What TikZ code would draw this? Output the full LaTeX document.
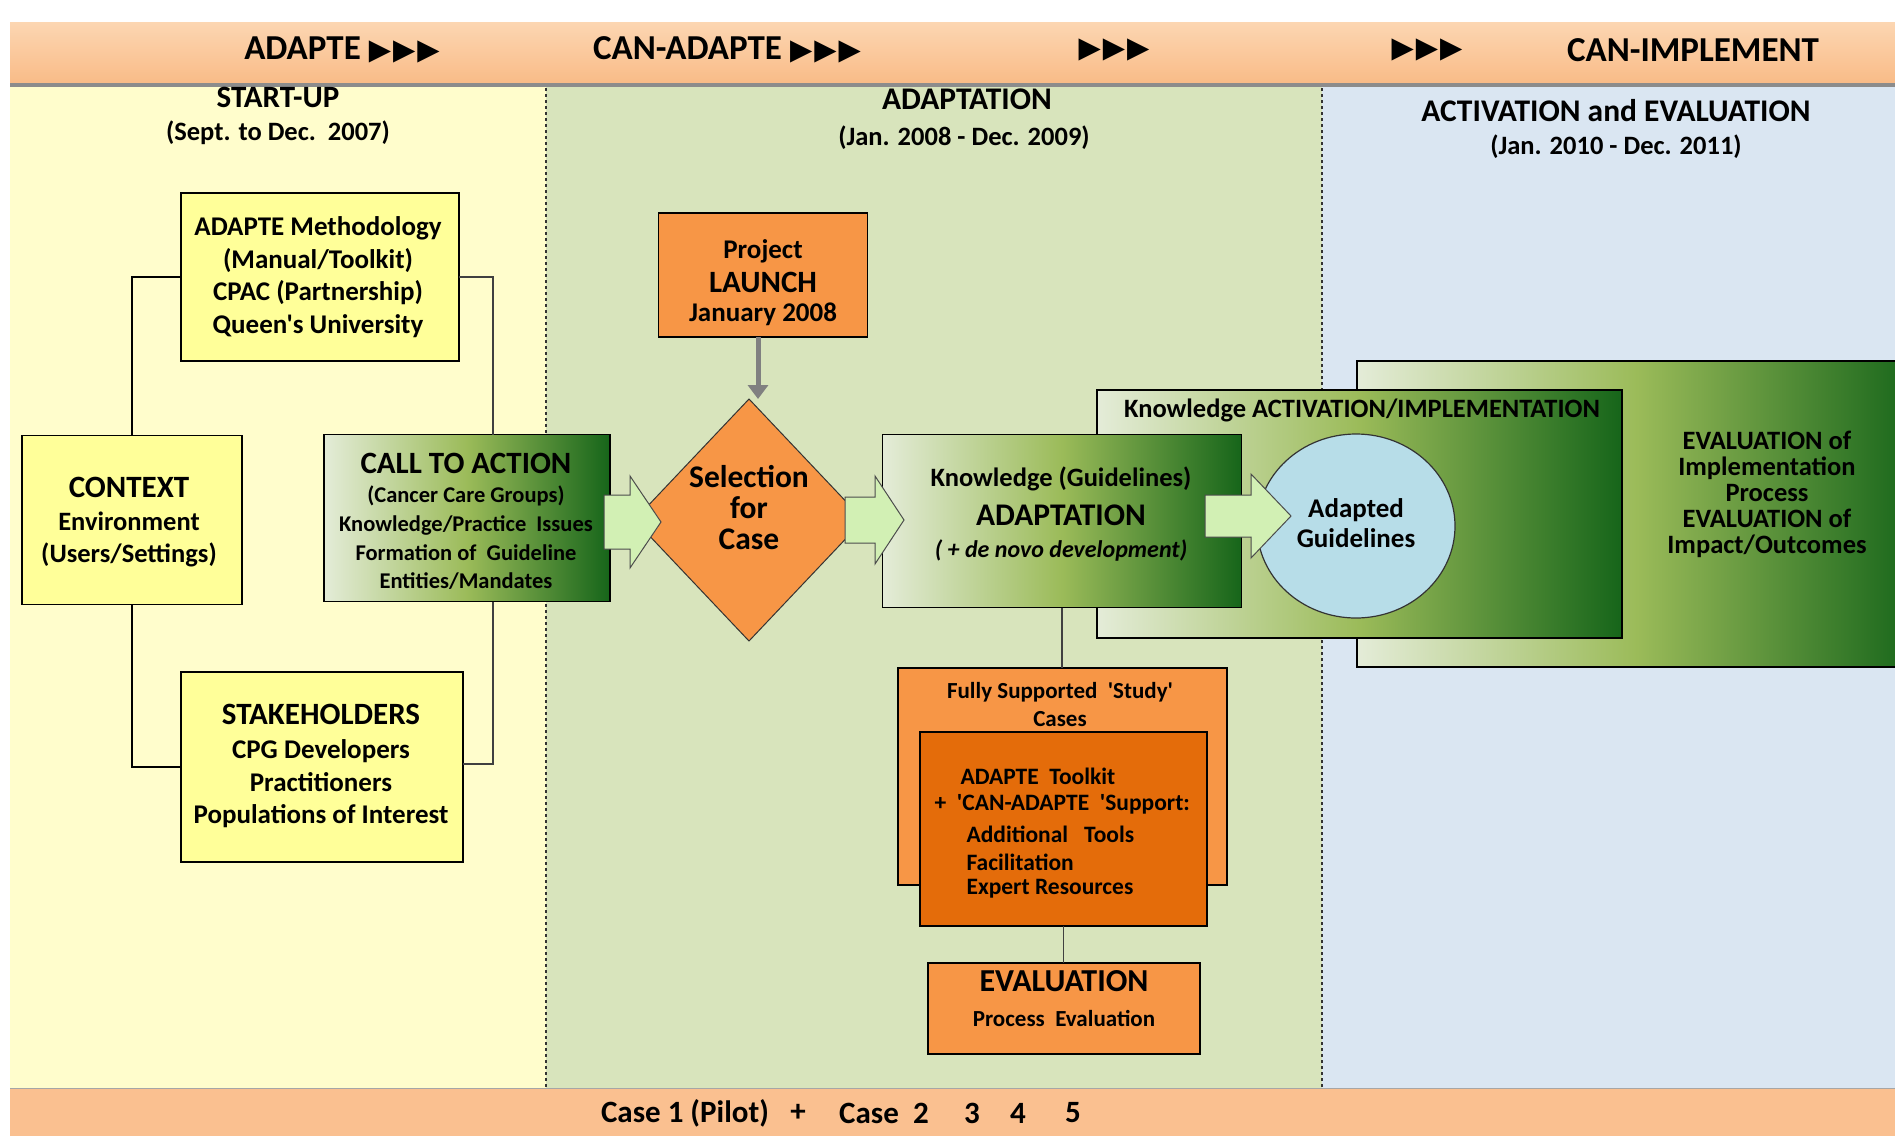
\documentclass[tikz,border=0pt]{standalone}
\usepackage{fontspec}
\setmainfont{Carlito}[Ligatures=TeXOff]
\newfontfamily\symfont{DejaVu Sans}
\usetikzlibrary{arrows.meta,shapes.geometric}
\newcommand\fsz[2]{\fontsize{#1}{#2}\selectfont}
\newcommand\tri{{\symfont\fsz{29}{29}▶\hspace{2pt}▶\hspace{2pt}▶}}

\definecolor{hdrtop}{HTML}{FCD6B2}
\definecolor{hdrbot}{HTML}{F9BC88}
\definecolor{pyellow}{HTML}{FFFDCC}
\definecolor{pgreen}{HTML}{D8E4BC}
\definecolor{pblue}{HTML}{DAE6F2}
\definecolor{boxyellow}{HTML}{FFFF99}
\definecolor{orangeA}{HTML}{F79646}
\definecolor{orangeB}{HTML}{E46C0A}
\definecolor{glight}{HTML}{E4ECD8}
\definecolor{gmid}{HTML}{9BBB59}
\definecolor{gdark}{HTML}{16651A}
\definecolor{arrowgreen}{HTML}{D2F0B4}
\definecolor{ellblue}{HTML}{B7DDE8}
\definecolor{bandorange}{HTML}{FAC090}

\begin{document}
\begin{tikzpicture}[x=1pt,y=-1pt,
  every node/.style={inner sep=0pt,outer sep=0pt},
  boxline/.style={draw=black,line width=1.8pt},
  ybox/.style={boxline,fill=boxyellow},
  obox/.style={boxline,fill=orangeA},
  gbox/.style={boxline,left color=glight,right color=gdark,middle color=gmid},
  conn/.style={draw=black,line width=1.6pt},
  blockarrow/.style={draw=black!70,line width=1pt,fill=arrowgreen},
  txt/.style={font=\bfseries,align=center,text=black},
]
\useasboundingbox (0,0) rectangle (1895,1136);

% phase panels
\fill[white] (0,0) rectangle (1895,1136);
\fill[pyellow] (10,82) rectangle (546,1088);
\fill[pgreen] (546,82) rectangle (1322,1088);
\fill[pblue] (1322,82) rectangle (1895,1088);
\draw[black!80,line width=1.2pt,dashed] (546,82) -- (546,1088);
\draw[black!80,line width=1.2pt,dashed] (1322,82) -- (1322,1088);

% top band with its shadow
\fill[black!45] (10,26) rectangle (1895,87);
\shade[top color=hdrtop,bottom color=hdrbot] (10,22) rectangle (1895,82);
\node[txt,font=\bfseries\fsz{35}{35}] (h1) at (342,50) {ADAPTE\hspace{8pt}\tri};
\node[txt,font=\bfseries\fsz{35}{35}] (h2) at (727,50) {CAN-ADAPTE\hspace{8pt}\tri};
\node[txt] (h3) at (1114,50) {\tri};
\node[txt] (h4) at (1427,50) {\tri};
\node[txt,font=\bfseries\fsz{35}{35}] (h5) at (1693,50) {CAN-IMPLEMENT};

% bottom band
\fill[bandorange] (10,1088) rectangle (1895,1136);
\draw[black!35,line width=1pt] (10,1088) -- (1895,1088);
\begin{scope}[every node/.style={txt,font=\bfseries\fsz{31}{31}}]
\node (b1) at (685,1113) {Case 1 (Pilot)};
\node (b2) at (798,1113) {+};
\node (b3) at (869,1113) {Case};
\node (b4) at (921,1113) {2};
\node (b5) at (972,1113) {3};
\node (b6) at (1018,1113) {4};
\node (b7) at (1073,1113) {5};
\end{scope}

% phase titles
\node[txt,font=\bfseries\fsz{31}{31}] (t1) at (278,97) {START-UP};
\node[txt,font=\bfseries\fsz{26.5}{26.5}] (d1) at (278,133) {(Sept. to Dec.\ \ 2007)};
\node[txt,font=\bfseries\fsz{31.5}{31.5}] (t2) at (967,99) {ADAPTATION};
\node[txt,font=\bfseries\fsz{26.5}{26.5}] (d2) at (964,138) {(Jan. 2008 - Dec. 2009)};
\node[txt,font=\bfseries\fsz{31.5}{31.5}] (t3) at (1616,111) {ACTIVATION and EVALUATION};
\node[txt,font=\bfseries\fsz{26.5}{26.5}] (d3) at (1616,147) {(Jan. 2010 - Dec. 2011)};

% start-up boxes
\node[ybox,minimum width=278,minimum height=168] (adapte) at (320,277) {};
\node[txt,font=\bfseries\fsz{27}{32.7}] (adaptetx) at (318,277)
  {ADAPTE Methodology\\(Manual/Toolkit)\\CPAC (Partnership)\\Queen's University};

\node[ybox,minimum width=220,minimum height=169] (context) at (132,520) {};
\node[txt,font=\bfseries\fsz{31}{31}] (contextt) at (129,487) {CONTEXT};
\node[txt,font=\bfseries\fsz{26.5}{32}] (contextb) at (129,539) {Environment\\(Users/Settings)};

\node[gbox,minimum width=286,minimum height=167] (call) at (467,518) {};
\node[txt,font=\bfseries\fsz{31}{31}] (callt) at (466,463) {CALL TO ACTION};
\node[txt,font=\bfseries\fsz{22.5}{28.7}] (callb) at (466,538)
  {(Cancer Care Groups)\\Knowledge/Practice\ \ Issues\\Formation of\ \ Guideline\\Entities/Mandates};

\node[ybox,minimum width=282,minimum height=190] (stake) at (322,767) {};
\node[txt,font=\bfseries\fsz{31}{31}] (staket) at (321,714) {STAKEHOLDERS};
\node[txt,font=\bfseries\fsz{27}{32.5}] (stakeb) at (321,784)
  {CPG Developers\\Practitioners\\Populations of Interest};

% brackets joining the start-up boxes
\coordinate (rtop) at (493,277);
\coordinate (rbot) at (493,764);
\draw[conn] (adapte.west) -| (context.north);
\draw[conn] (context.south) |- (stake.west);
\draw[conn,draw=black!75] (adapte.east) -- (rtop) -- (rtop |- call.north);
\draw[conn,draw=black!75] (rbot |- call.south) -- (rbot) -- (stake.east |- rbot);

% adaptation phase
\node[obox,minimum width=209,minimum height=124] (launch) at (763,275) {};
\node[txt,font=\bfseries\fsz{27}{27}] (launch1) at (763,251) {Project};
\node[txt,font=\bfseries\fsz{31}{31}] (launch2) at (763,282) {LAUNCH};
\node[txt,font=\bfseries\fsz{27}{27}] (launch3) at (763,314) {January 2008};

\node[minimum width=229,minimum height=242] (sel) at (749,520) {};
\draw[draw=black!80,line width=1pt,fill=orangeA]
  (sel.north) -- (sel.east) -- (sel.south) -- (sel.west) -- cycle;
\node[txt,font=\bfseries\fsz{31.5}{31}] (seltx) at (749,508) {Selection\\for\\Case};
\draw[draw=black!50,line width=5pt,-{Triangle[length=14pt,width=20pt]}] (launch.south -| 758,0) -- (sel.north -| 758,0);

% activation / evaluation layers
\node[gbox,minimum width=560,minimum height=306,anchor=north west] (evalout) at (1357,361) {};
\node[txt,font=\bfseries\fsz{26.5}{26}] (evaltx) at (1767,494)
  {EVALUATION of\\Implementation\\Process\\EVALUATION of\\Impact/Outcomes};
\node[gbox,minimum width=525,minimum height=248,anchor=north west] (kact) at (1097,390) {};
\node[txt,font=\bfseries\fsz{26.5}{26.5}] (kacttx) at (1362,410) {Knowledge ACTIVATION/IMPLEMENTATION};

\node[gbox,minimum width=359,minimum height=173] (adapt) at (1062,521) {};
\node[txt,font=\bfseries\fsz{26.5}{26.5}] (adapt1) at (1061,479) {Knowledge (Guidelines)};
\node[txt,font=\bfseries\fsz{31.5}{31.5}] (adapt2) at (1061,515) {ADAPTATION};
\node[txt,font=\bfseries\itshape\fsz{24}{24}] (adapt3) at (1061,550) {( + de novo development)};

\node[ellipse,draw=black!80,line width=1.2pt,fill=ellblue,minimum width=198,minimum height=184] (ell) at (1356,526) {};
\node[txt,font=\bfseries\fsz{27}{30}] (elltx) at (1356,523) {Adapted\\Guidelines};

% green block arrows
\path[blockarrow] (604,495) -- (630,495) -- (630,476) -- (661,522) -- (630,568) -- (630,549) -- (604,549) -- cycle;
\path[blockarrow] (845,497) -- (875,497) -- (875,476) -- (904,520) -- (875,564) -- (875,543) -- (845,543) -- cycle;
\path[blockarrow] (1205,495) -- (1251,495) -- (1251,474) -- (1291,516) -- (1251,558) -- (1251,537) -- (1205,537) -- cycle;

% supported cases and evaluation
\node[obox,minimum width=329,minimum height=217,anchor=north west] (fully) at (898,668) {};
\node[txt,font=\bfseries\fsz{23}{28}] (fullytx) at (1060,705) {Fully Supported\ \ 'Study'\\Cases};
\node[boxline,fill=orangeB,minimum width=287,minimum height=194,anchor=north west] (inner) at (920,732) {};
\begin{scope}[every node/.style={txt,font=\bfseries\fsz{23.5}{23.5},anchor=west}]
\node (in1) at (957,776) {ADAPTE\ \ Toolkit};
\node (in2) at (931,804) {+\ \ 'CAN-ADAPTE\ \ 'Support:};
\node (in3) at (963,834) {Additional\ \ \ Tools};
\node (in4) at (963,862) {Facilitation};
\node (in5) at (963,889) {Expert Resources};
\end{scope}
\node[obox,minimum width=272,minimum height=91,anchor=north west] (evalbox) at (928,963) {};
\node[txt,font=\bfseries\fsz{32}{32}] (evalt) at (1064,981) {EVALUATION};
\node[txt,font=\bfseries\fsz{23}{23}] (evalb) at (1064,1018) {Process\ \ Evaluation};

\draw[conn,draw=black!75] (adapt.south) -- (adapt.south |- fully.north);
\draw[conn,draw=black!75] (inner.south) -- (inner.south |- evalbox.north);
\end{tikzpicture}
\end{document}
